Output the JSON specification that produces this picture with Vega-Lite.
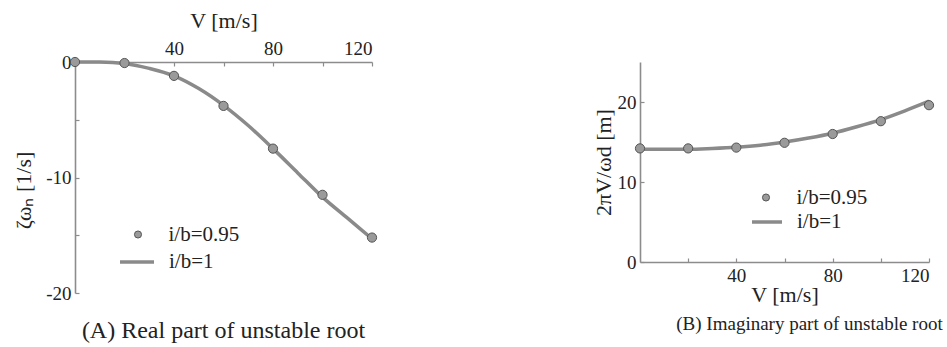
{
  "$schema": "https://vega.github.io/schema/vega-lite/v6.json",
  "background": "white",
  "padding": {"left": 12, "top": 9, "right": 5, "bottom": 5},
  "config": {
    "view": {"stroke": null},
    "font": "Liberation Serif",
    "axis": {
      "grid": false,
      "domainColor": "#8c8c8c",
      "domainWidth": 1.6,
      "tickColor": "#8c8c8c",
      "tickWidth": 1.2,
      "tickSize": -4,
      "labelFont": "Liberation Serif",
      "labelFontSize": 19,
      "labelColor": "#222222",
      "titleFont": "Liberation Serif",
      "titleFontSize": 22,
      "titleFontWeight": "normal",
      "titleColor": "#222222",
      "labelPadding": 8
    },
    "legend": {
      "labelFont": "Liberation Serif",
      "labelFontSize": 21,
      "labelColor": "#222222",
      "padding": 0
    },
    "title": {"font": "Liberation Serif", "fontSize": 20, "fontWeight": "normal", "color": "#222222"}
  },
  "resolve": {
    "scale": {"fill": "independent", "stroke": "independent"},
    "legend": {"fill": "independent", "stroke": "independent"}
  },
  "datasets": {
    "realLine": [
      {"V": 0, "val": 0, "series": "i/b=1"},
      {"V": 10, "val": -0.01, "series": "i/b=1"},
      {"V": 20, "val": -0.12, "series": "i/b=1"},
      {"V": 30, "val": -0.55, "series": "i/b=1"},
      {"V": 40, "val": -1.2, "series": "i/b=1"},
      {"V": 50, "val": -2.3, "series": "i/b=1"},
      {"V": 60, "val": -3.75, "series": "i/b=1"},
      {"V": 70, "val": -5.5, "series": "i/b=1"},
      {"V": 80, "val": -7.5, "series": "i/b=1"},
      {"V": 90, "val": -9.6, "series": "i/b=1"},
      {"V": 100, "val": -11.7, "series": "i/b=1"},
      {"V": 110, "val": -13.5, "series": "i/b=1"},
      {"V": 120, "val": -15.3, "series": "i/b=1"}
    ],
    "realPts": [
      {"V": 0, "val": 0, "series": "i/b=0.95"},
      {"V": 20, "val": -0.09, "series": "i/b=0.95"},
      {"V": 40, "val": -1.2, "series": "i/b=0.95"},
      {"V": 60, "val": -3.8, "series": "i/b=0.95"},
      {"V": 80, "val": -7.5, "series": "i/b=0.95"},
      {"V": 100, "val": -11.5, "series": "i/b=0.95"},
      {"V": 120, "val": -15.2, "series": "i/b=0.95"}
    ],
    "imagLine": [
      {"V": 0, "val": 14.1, "series": "i/b=1"},
      {"V": 10, "val": 14.1, "series": "i/b=1"},
      {"V": 20, "val": 14.1, "series": "i/b=1"},
      {"V": 30, "val": 14.2, "series": "i/b=1"},
      {"V": 40, "val": 14.35, "series": "i/b=1"},
      {"V": 50, "val": 14.6, "series": "i/b=1"},
      {"V": 60, "val": 15.0, "series": "i/b=1"},
      {"V": 70, "val": 15.5, "series": "i/b=1"},
      {"V": 80, "val": 16.1, "series": "i/b=1"},
      {"V": 90, "val": 16.9, "series": "i/b=1"},
      {"V": 100, "val": 17.8, "series": "i/b=1"},
      {"V": 110, "val": 18.9, "series": "i/b=1"},
      {"V": 120, "val": 20.1, "series": "i/b=1"}
    ],
    "imagPts": [
      {"V": 0, "val": 14.2, "series": "i/b=0.95"},
      {"V": 20, "val": 14.2, "series": "i/b=0.95"},
      {"V": 40, "val": 14.3, "series": "i/b=0.95"},
      {"V": 60, "val": 14.9, "series": "i/b=0.95"},
      {"V": 80, "val": 16.0, "series": "i/b=0.95"},
      {"V": 100, "val": 17.6, "series": "i/b=0.95"},
      {"V": 120, "val": 19.6, "series": "i/b=0.95"}
    ]
  },
  "bounds": "flush",
  "spacing": 268,
  "hconcat": [
    {
      "width": 297,
      "height": 231,
      "title": {"text": "(A) Real part of unstable root", "orient": "bottom", "offset": 16, "fontSize": 24, "font": "Liberation Serif"},
      "layer": [
        {
          "data": {"name": "realLine"},
          "mark": {"type": "line", "interpolate": "monotone", "strokeWidth": 3.5},
          "encoding": {
            "x": {"field": "V", "type": "quantitative", "scale": {"domain": [0, 120], "nice": false},
              "axis": {"orient": "top", "values": [20, 40, 60, 80, 100, 120], "labelExpr": "datum.value % 40 === 0 ? datum.label : ''", "title": "V  [m/s]", "titlePadding": 7, "labelFont": "Liberation Serif", "titleFont": "Liberation Serif"}},
            "y": {"field": "val", "type": "quantitative", "scale": {"domain": [-20, 0], "nice": false},
              "axis": {"values": [0, -5, -10, -15, -20], "labelExpr": "datum.value % 10 === 0 ? '' + datum.value : ''", "title": "ζωₙ   [1/s]", "titleY": 128, "titlePadding": 10, "labelFont": "Liberation Serif", "titleFont": "Liberation Serif"}},
            "stroke": {"field": "series", "type": "nominal", "scale": {"range": ["#8a8a8a"]},
              "legend": {"orient": "none", "legendX": 43, "legendY": 181, "title": null, "symbolType": "stroke", "symbolSize": 1156, "symbolStrokeWidth": 3.5, "labelOffset": 13, "labelFont": "Liberation Serif", "labelFontSize": 21}}
          }
        },
        {
          "data": {"name": "realPts"},
          "mark": {"type": "point", "filled": true, "size": 85, "stroke": "#555555", "strokeWidth": 1, "opacity": 1},
          "encoding": {
            "x": {"field": "V", "type": "quantitative", "scale": {"domain": [0, 120], "nice": false}},
            "y": {"field": "val", "type": "quantitative", "scale": {"domain": [-20, 0], "nice": false}},
            "fill": {"field": "series", "type": "nominal", "scale": {"range": ["#9a9a9a"]},
              "legend": {"orient": "none", "legendX": 52.5, "legendY": 162, "title": null, "symbolType": "circle", "symbolSize": 50, "symbolStrokeColor": "#555555", "symbolStrokeWidth": 1, "labelOffset": 20, "labelFont": "Liberation Serif", "labelFontSize": 21}}
          }
        }
      ]
    },
    {
      "width": 289,
      "height": 200,
      "title": {"text": "(B) Imaginary part of unstable root", "orient": "bottom", "offset": 10, "dx": 25, "fontSize": 19, "font": "Liberation Serif"},
      "layer": [
        {
          "data": {"name": "imagLine"},
          "mark": {"type": "line", "interpolate": "monotone", "strokeWidth": 3.5},
          "encoding": {
            "x": {"field": "V", "type": "quantitative", "scale": {"domain": [0, 120], "nice": false},
              "axis": {"orient": "bottom", "values": [20, 40, 60, 80, 100, 120], "labelExpr": "datum.value % 40 === 0 ? datum.label : ''", "title": "V  [m/s]", "titlePadding": -1, "labelFont": "Liberation Serif", "titleFont": "Liberation Serif"}},
            "y": {"field": "val", "type": "quantitative", "scale": {"domain": [0, 25], "nice": false},
              "axis": {"values": [0, 5, 10, 15, 20, 25], "labelExpr": "datum.value % 10 === 0 ? '' + datum.value : ''", "title": "2πV/ωd    [m]", "titlePadding": 2, "labelFont": "Liberation Serif", "titleFont": "Liberation Serif"}},
            "stroke": {"field": "series", "type": "nominal", "scale": {"range": ["#8a8a8a"]},
              "legend": {"orient": "none", "legendX": 110, "legendY": 143, "title": null, "symbolType": "stroke", "symbolSize": 900, "symbolStrokeWidth": 3.5, "labelOffset": 13, "labelFont": "Liberation Serif", "labelFontSize": 21}}
          }
        },
        {
          "data": {"name": "imagPts"},
          "mark": {"type": "point", "filled": true, "size": 85, "stroke": "#555555", "strokeWidth": 1, "opacity": 1},
          "encoding": {
            "x": {"field": "V", "type": "quantitative", "scale": {"domain": [0, 120], "nice": false}},
            "y": {"field": "val", "type": "quantitative", "scale": {"domain": [0, 25], "nice": false}},
            "fill": {"field": "series", "type": "nominal", "scale": {"range": ["#9a9a9a"]},
              "legend": {"orient": "none", "legendX": 115.5, "legendY": 125, "title": null, "symbolType": "circle", "symbolSize": 50, "symbolStrokeColor": "#555555", "symbolStrokeWidth": 1, "labelOffset": 20, "labelFont": "Liberation Serif", "labelFontSize": 21}}
          }
        }
      ]
    }
  ]
}
